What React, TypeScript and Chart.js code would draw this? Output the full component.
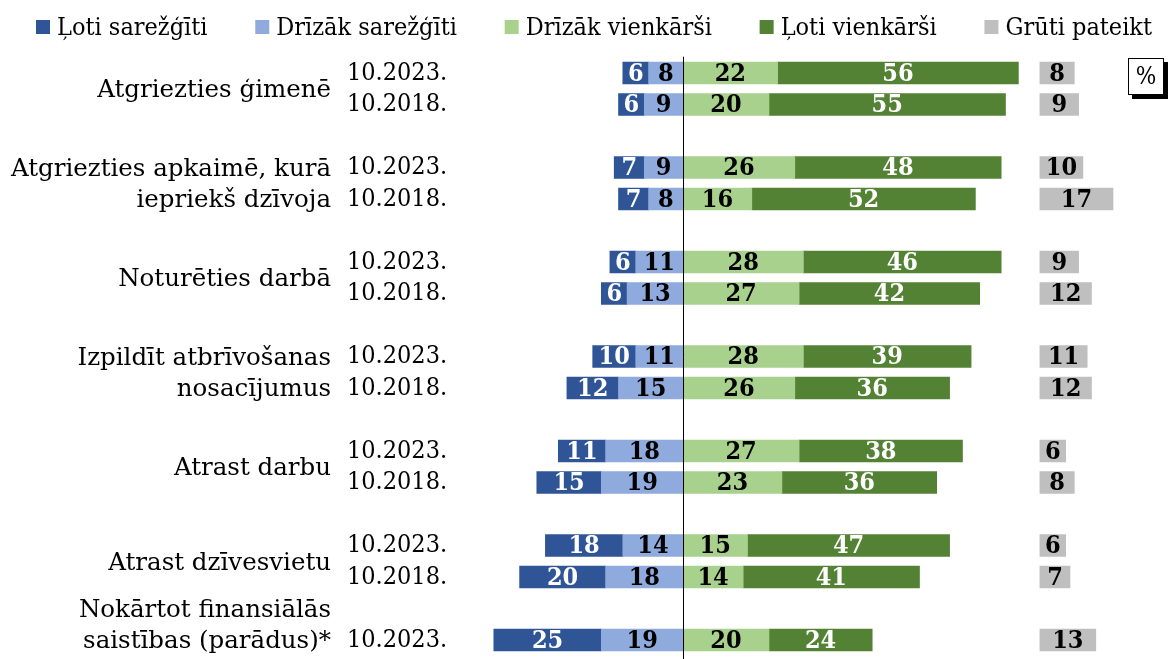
import React, { useEffect, useRef } from 'react';
import { Chart, registerables } from 'chart.js';

Chart.register(...registerables);

const FONT = '"DejaVu Serif Condensed", "DejaVu Serif", serif';
const FONT_WIDE = '"DejaVu Serif", serif';

// Group (category) labels, split into lines as in the original
const GROUP_LABELS: string[][] = [
  ['Atgriezties ģimenē'],
  ['Atgriezties apkaimē, kurā', 'iepriekš dzīvoja'],
  ['Noturēties darbā'],
  ['Izpildīt atbrīvošanas', 'nosacījumus'],
  ['Atrast darbu'],
  ['Atrast dzīvesvietu'],
  ['Nokārtot finansiālās', 'saistības (parādus)*'],
];

// Each data row: its group and survey period
const ROW_GROUP = [0, 0, 1, 1, 2, 2, 3, 3, 4, 4, 5, 5, 6];
const ROW_PERIOD = [
  '10.2023.', '10.2018.',
  '10.2023.', '10.2018.',
  '10.2023.', '10.2018.',
  '10.2023.', '10.2018.',
  '10.2023.', '10.2018.',
  '10.2023.', '10.2018.',
  '10.2023.',
];

const SERIES_NAMES = ['Ļoti sarežģīti', 'Drīzāk sarežģīti', 'Drīzāk vienkārši', 'Ļoti vienkārši', 'Grūti pateikt'];
const SERIES_COLORS = ['#2F5597', '#8FAADC', '#A9D18E', '#548235', '#BFBFBF'];
const LABEL_COLORS = ['#FFFFFF', '#000000', '#000000', '#FFFFFF', '#000000'];

const VERY_HARD = [6, 6, 7, 7, 6, 6, 10, 12, 11, 15, 18, 20, 25];
const RATHER_HARD = [8, 9, 9, 8, 11, 13, 11, 15, 18, 19, 14, 18, 19];
const RATHER_EASY = [22, 20, 26, 16, 28, 27, 28, 26, 27, 23, 15, 14, 20];
const VERY_EASY = [56, 55, 48, 52, 46, 42, 39, 36, 38, 36, 47, 41, 24];
const HARD_TO_SAY = [8, 9, 10, 17, 9, 12, 11, 12, 6, 8, 6, 7, 13];

// where the separate "Grūti pateikt" column starts on the value axis
const HARD_TO_SAY_START = 83;

export default function App() {
  const ref = useRef<HTMLCanvasElement>(null);

  useEffect(() => {
    if (!ref.current) return;

    // Build category slots with a blank slot between groups
    const labels: string[] = [];
    const slotOfRow: number[] = [];
    const groupSlots: number[][] = GROUP_LABELS.map(() => []);
    ROW_GROUP.forEach((g, i) => {
      if (i > 0 && ROW_GROUP[i - 1] !== g) labels.push('');
      slotOfRow.push(labels.length);
      groupSlots[g].push(labels.length);
      labels.push(ROW_PERIOD[i]);
    });
    const toSlots = (vals: (number | number[])[]) => {
      const arr: any[] = labels.map(() => null);
      vals.forEach((v, i) => { arr[slotOfRow[i]] = v; });
      return arr;
    };

    const datasets: any[] = [
      { label: SERIES_NAMES[1], data: toSlots(RATHER_HARD.map(v => -v)), backgroundColor: SERIES_COLORS[1], stack: 'main', _li: 1 },
      { label: SERIES_NAMES[0], data: toSlots(VERY_HARD.map(v => -v)), backgroundColor: SERIES_COLORS[0], stack: 'main', _li: 0 },
      { label: SERIES_NAMES[2], data: toSlots(RATHER_EASY), backgroundColor: SERIES_COLORS[2], stack: 'main', _li: 2 },
      { label: SERIES_NAMES[3], data: toSlots(VERY_EASY), backgroundColor: SERIES_COLORS[3], stack: 'main', _li: 3 },
      { label: SERIES_NAMES[4], data: toSlots(HARD_TO_SAY.map(v => [HARD_TO_SAY_START, HARD_TO_SAY_START + v])), backgroundColor: SERIES_COLORS[4], stack: 'dk', _li: 4 },
    ];

    const extras = {
      id: 'extras',
      afterDatasetsDraw(chart: any) {
        const ctx = chart.ctx;
        ctx.save();
        ctx.font = `bold 25px ${FONT}`;
        ctx.textAlign = 'center';
        ctx.textBaseline = 'middle';
        chart.data.datasets.forEach((ds: any, di: number) => {
          const meta = chart.getDatasetMeta(di);
          meta.data.forEach((el: any, j: number) => {
            const raw = ds.data[j];
            if (raw === null || raw === undefined) return;
            const val = Array.isArray(raw) ? raw[1] - raw[0] : Math.abs(raw);
            const { x, base, y } = el.getProps(['x', 'base', 'y'], true);
            ctx.fillStyle = LABEL_COLORS[ds._li];
            ctx.fillText(String(val), (x + base) / 2, y + 1);
          });
        });
        // zero line
        const xs = chart.scales.x;
        const x0 = Math.round(xs.getPixelForValue(0)) + 0.5;
        ctx.strokeStyle = '#000';
        ctx.lineWidth = 1;
        ctx.beginPath();
        ctx.moveTo(x0, chart.chartArea.top - 0.5);
        ctx.lineTo(x0, chart.height);
        ctx.stroke();
        ctx.restore();
      },
      afterDraw(chart: any) {
        const ctx = chart.ctx;
        const ys = chart.scales.y;
        ctx.save();
        // group labels
        ctx.font = `24.5px ${FONT_WIDE}`;
        ctx.fillStyle = '#000';
        ctx.textAlign = 'right';
        ctx.textBaseline = 'middle';
        const step = ys.getPixelForValue(1) - ys.getPixelForValue(0);
        GROUP_LABELS.forEach((lines, g) => {
          const slots = groupSlots[g];
          const first = ys.getPixelForValue(slots[0]);
          const last = ys.getPixelForValue(slots[slots.length - 1]);
          let startY: number;
          if (lines.length <= slots.length) {
            const mid = (first + last) / 2;
            startY = mid - ((lines.length - 1) * step) / 2;
          } else {
            startY = last - (lines.length - 1) * step;
          }
          lines.forEach((ln, k) => ctx.fillText(ln, 331, startY + k * step + 2));
        });

        // legend
        ctx.font = `25px ${FONT}`;
        ctx.textAlign = 'left';
        const box = 14, boxGap = 7;
        const widths = SERIES_NAMES.map(n => box + boxGap + ctx.measureText(n).width);
        const left = 36, right = 1152;
        const gap = (right - left - widths.reduce((a, b) => a + b, 0)) / (SERIES_NAMES.length - 1);
        let lx = left;
        const ly = 27;
        SERIES_NAMES.forEach((n, i) => {
          ctx.fillStyle = SERIES_COLORS[i];
          ctx.fillRect(lx, ly - box / 2, box, box);
          ctx.fillStyle = '#000';
          ctx.fillText(n, lx + box + boxGap, ly + 1);
          lx += widths[i] + gap;
        });

        // % box
        const bx = 1128, by = 58, bw = 36, bh = 37;
        ctx.fillStyle = '#000';
        ctx.fillRect(bx + 4, by + 4, bw, bh);
        ctx.fillStyle = '#fff';
        ctx.fillRect(bx, by, bw, bh);
        ctx.strokeStyle = '#000';
        ctx.lineWidth = 1;
        ctx.strokeRect(bx + 0.5, by + 0.5, bw - 1, bh - 1);
        ctx.fillStyle = '#000';
        ctx.textAlign = 'center';
        ctx.font = `24px ${FONT}`;
        ctx.fillText('%', bx + bw / 2, by + bh / 2 + 1);
        ctx.restore();
      },
    };

    const chart = new Chart(ref.current, {
      type: 'bar',
      data: { labels, datasets },
      options: {
        indexAxis: 'y',
        animation: false,
        responsive: false,
        layout: { padding: { left: 347, right: 33.5, top: 57.25, bottom: 3.25 } },
        datasets: { bar: { barThickness: 22, grouped: false, borderWidth: 0 } as any },
        plugins: { legend: { display: false }, tooltip: { enabled: false } },
        scales: {
          x: { stacked: true, min: -50, max: 105, display: false },
          y: {
            stacked: true,
            grid: { display: false },
            border: { display: false },
            ticks: {
              crossAlign: 'far',
              autoSkip: false,
              color: '#000',
              padding: 0,
              font: { family: FONT, size: 25 },
            },
            afterFit: (s: any) => {
              s.width = 121;
              s.paddingTop = 0;
              s.paddingBottom = 0;
            },
          },
        },
      } as any,
      plugins: [extras],
    });
    return () => chart.destroy();
  }, []);

  return (
    <div style={{ position: 'fixed', left: 0, top: 0, width: 1168, height: 659, background: '#fff' }}>
      <canvas ref={ref} width={1168} height={659} style={{ display: 'block' }} />
    </div>
  );
}
